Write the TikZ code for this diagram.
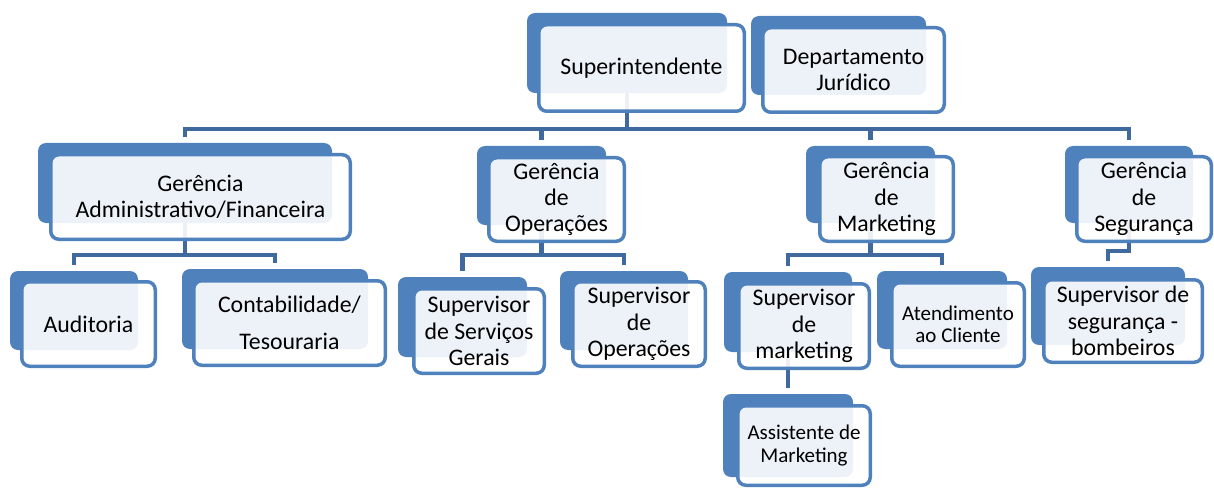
\documentclass[tikz,border=0pt]{standalone}
\usepackage{fontspec}
\setmainfont{Carlito}
\usetikzlibrary{backgrounds}
\definecolor{boxblue}{RGB}{79,129,189}
\definecolor{connblue}{RGB}{64,106,158}
\newcommand\bxfont{\fontsize{23.8pt}{26.3pt}\selectfont}
\newcommand\bxsmall{\fontsize{21pt}{22.5pt}\selectfont}
\newcommand\bxwide{\fontsize{23.8pt}{37pt}\selectfont}
\tikzset{
  backshape/.style={rectangle, rounded corners=8pt, fill=boxblue, draw=none, inner sep=0pt, outer sep=0pt},
  frontshape/.style={rectangle, rounded corners=8pt, fill=white, fill opacity=0.9, text opacity=1,
    draw=boxblue, line width=3.5pt, inner sep=0pt, outer sep=0pt, align=center, text=black},
  conn/.style={draw=connblue, line width=4.5pt, shorten >=6pt}
}
\newcommand\backbox[5]{%
  \pgfmathsetmacro\bxcx{(#2+#4)/2}\pgfmathsetmacro\bxcy{(#3+#5)/2}%
  \pgfmathsetmacro\bxw{#4-#2}\pgfmathsetmacro\bxh{#5-#3}%
  \node[backshape, minimum width=\bxw pt, minimum height=\bxh pt] (#1) at (\bxcx,\bxcy) {};}
\newcommand\frontbox[7]{%
  \pgfmathsetmacro\bxcx{(#2+#4)/2}\pgfmathsetmacro\bxcy{(#3+#5)/2}%
  \pgfmathsetmacro\bxw{#4-#2-3.5}\pgfmathsetmacro\bxh{#5-#3-3.5}%
  \node[frontshape, font=#6, minimum width=\bxw pt, minimum height=\bxh pt] (#1) at (\bxcx,\bxcy) {#7};}
\begin{document}
\begin{tikzpicture}[x=1pt,y=-1pt]
\useasboundingbox (0,0) rectangle (1214,489);
\coordinate (bus1) at (0,129);
\coordinate (bus2) at (0,255);
\coordinate (bus3) at (0,251);

\backbox{supB}{527}{13}{727}{93}
\frontbox{sup}{537}{23}{746}{113}{\bxfont}{Superintendente}
\backbox{djB}{751}{16}{926}{95}
\frontbox{dj}{761}{26}{946}{114}{\bxfont}{Departamento\\Jurídico}

\backbox{gadmB}{38}{143}{332}{223}
\frontbox{gadm}{49}{153}{352}{241}{\bxfont}{Gerência\\Administrativo/Financeira}
\backbox{audB}{10}{271}{138}{350}
\frontbox{aud}{20}{280}{157}{368}{\bxfont}{Auditoria}
\backbox{contB}{182}{269}{368}{349}
\frontbox{cont}{192}{279}{387}{367}{\bxwide}{Contabilidade/\\Tesouraria}

\backbox{gopB}{477}{146}{606}{225}
\frontbox{gop}{487}{156}{626}{243}{\bxfont}{Gerência\\de\\Operações}
\backbox{ssgB}{398}{277}{527}{357}
\frontbox{ssg}{412}{287}{546}{375}{\bxfont}{Supervisor\\de Serviços\\Gerais}
\backbox{sopB}{560}{271}{688}{350}
\frontbox{sop}{571}{280}{707}{368}{\bxfont}{Supervisor\\de\\Operações}

\backbox{gmkB}{806}{146}{935}{223}
\frontbox{gmk}{818}{155}{955}{243}{\bxfont}{Gerência\\de\\Marketing}
\backbox{smkB}{724}{272}{852}{352}
\frontbox{smk}{737}{282}{871}{370}{\bxfont}{Supervisor\\de\\marketing}
\backbox{atB}{877}{271}{1007}{349}
\frontbox{at}{890}{281}{1026}{368}{\bxsmall}{Atendimento\\ao Cliente}
\backbox{asB}{723}{394}{853}{477}
\frontbox{as}{736}{404}{872}{487}{\bxsmall}{Assistente de\\Marketing}

\backbox{gsgB}{1065}{146}{1193}{223}
\frontbox{gsg}{1075}{155}{1213}{243}{\bxfont}{Gerência\\de\\Segurança}
\backbox{ssegB}{1031}{267}{1185}{345}
\frontbox{sseg}{1042}{278}{1204}{364}{\bxfont}{Supervisor de\\segurança -\\bombeiros}

\begin{pgfonlayer}{background}
\draw[conn] (supB.center) -- (supB.center |- bus1) -| (gadmB.north);
\draw[conn] (supB.center) -- (supB.center |- bus1) -| (gopB.north);
\draw[conn] (supB.center) -- (supB.center |- bus1) -| (gmkB.north);
\draw[conn] (supB.center) -- (supB.center |- bus1) -| (gsgB.north);
\draw[conn] (gadmB.center) -- (gadmB.center |- bus2) -| (audB.north);
\draw[conn] (gadmB.center) -- (gadmB.center |- bus2) -| (contB.north);
\draw[conn] (gopB.center) -- (gopB.center |- bus2) -| (ssgB.north);
\draw[conn] (gopB.center) -- (gopB.center |- bus2) -| (sopB.north);
\draw[conn] (gmkB.center) -- (gmkB.center |- bus2) -| (smkB.north);
\draw[conn] (gmkB.center) -- (gmkB.center |- bus2) -| (atB.north);
\draw[conn] (gsgB.center) -- (gsgB.center |- bus3) -| (ssegB.north);
\draw[conn] (smkB.center) -- (asB.north);
\end{pgfonlayer}
\end{tikzpicture}
\end{document}
